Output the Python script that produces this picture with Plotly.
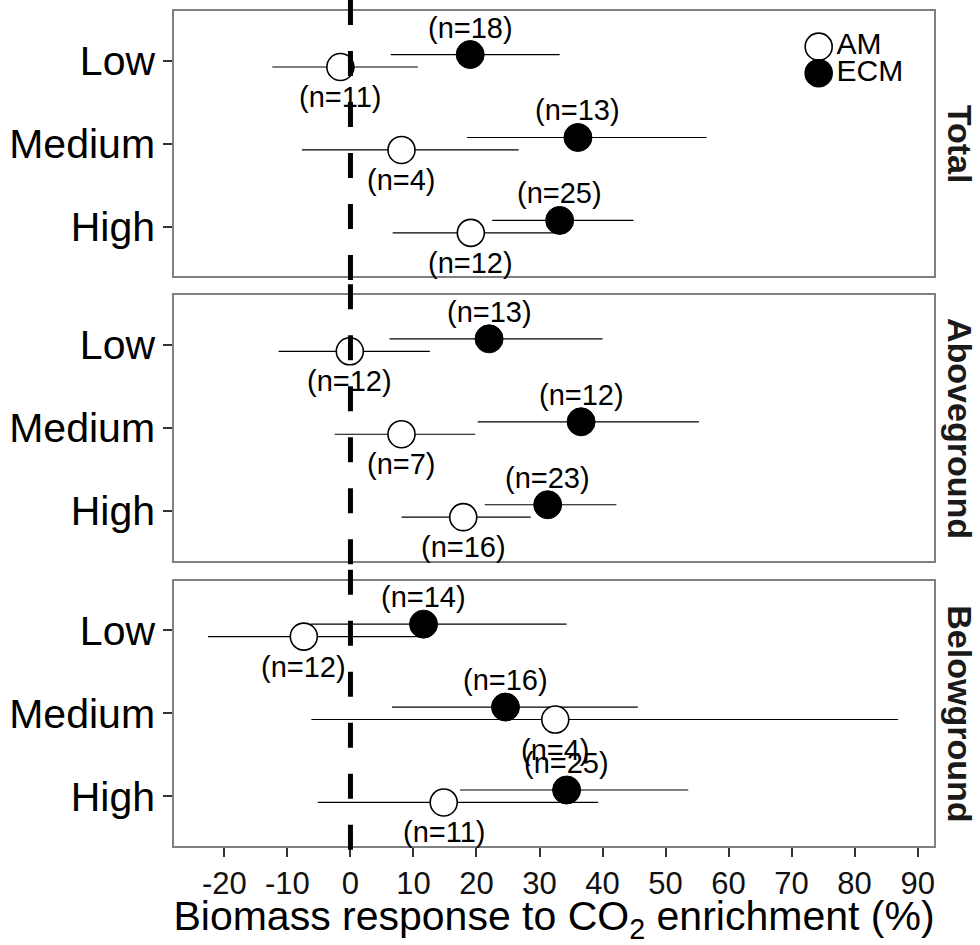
import plotly.graph_objects as go

# ---------------- data ----------------
levels = ["Low", "Medium", "High"]
panels = ["Total", "Aboveground", "Belowground"]
x_ticks = [-20, -10, 0, 10, 20, 30, 40, 50, 60, 70, 80, 90]

total_ecm_mean = [19.0, 36.1, 33.2]
total_ecm_lo = [6.4, 18.5, 22.5]
total_ecm_hi = [33.2, 56.5, 44.9]
total_ecm_n = [18, 13, 25]
total_am_mean = [-1.6, 8.1, 19.1]
total_am_lo = [-12.4, -7.7, 6.7]
total_am_hi = [10.7, 26.7, 32.4]
total_am_n = [11, 4, 12]

above_ecm_mean = [22.0, 36.6, 31.3]
above_ecm_lo = [6.2, 20.2, 21.3]
above_ecm_hi = [40.0, 55.3, 42.2]
above_ecm_n = [13, 12, 23]
above_am_mean = [-0.1, 8.1, 17.9]
above_am_lo = [-11.4, -2.5, 8.1]
above_am_hi = [12.6, 19.8, 28.6]
above_am_n = [12, 7, 16]

below_ecm_mean = [11.6, 24.6, 34.3]
below_ecm_lo = [-6.3, 6.6, 17.4]
below_ecm_hi = [34.3, 45.6, 53.6]
below_ecm_n = [14, 16, 25]
below_am_mean = [-7.4, 32.5, 14.8]
below_am_lo = [-22.6, -6.2, -5.2]
below_am_hi = [11.5, 86.9, 39.3]
below_am_n = [12, 4, 11]

panel_data = [
    (total_ecm_mean, total_ecm_lo, total_ecm_hi, total_ecm_n,
     total_am_mean, total_am_lo, total_am_hi, total_am_n),
    (above_ecm_mean, above_ecm_lo, above_ecm_hi, above_ecm_n,
     above_am_mean, above_am_lo, above_am_hi, above_am_n),
    (below_ecm_mean, below_ecm_lo, below_ecm_hi, below_ecm_n,
     below_am_mean, below_am_lo, below_am_hi, below_am_n),
]

# ---------------- styling ----------------
FONT = "Liberation Sans, Arial, Helvetica, sans-serif"
W, H = 980, 945
ML, MR, MT, MB = 174, 46, 9, 96
plot_h = H - MT - MB
panel_px = [(9, 276), (295, 562), (582, 849)]  # top, bottom in px
DODGE = 0.075
pos = {lvl: i + 1 for i, lvl in enumerate(levels)}

fig = go.Figure()
annotations = []

for p, (em, elo, ehi, en, am, alo, ahi, an) in enumerate(panel_data):
    xa = "x" if p == 0 else f"x{p+1}"
    ya = "y" if p == 0 else f"y{p+1}"
    y_ecm = [pos[l] - DODGE for l in levels]
    y_am = [pos[l] + DODGE for l in levels]
    # error bars first (both groups)
    for mean, lo, hi, yy in ((em, elo, ehi, y_ecm), (am, alo, ahi, y_am)):
        fig.add_trace(go.Scatter(
            x=mean, y=yy, xaxis=xa, yaxis=ya, mode="markers",
            marker=dict(size=1, color="rgba(0,0,0,0)"),
            error_x=dict(type="data", symmetric=False,
                         array=[h - m for h, m in zip(hi, mean)],
                         arrayminus=[m - l for m, l in zip(mean, lo)],
                         width=0, thickness=1.2, color="black"),
            showlegend=False, hoverinfo="skip"))
    # points
    fig.add_trace(go.Scatter(
        x=am, y=y_am, xaxis=xa, yaxis=ya, mode="markers",
        marker=dict(size=27, color="white", line=dict(color="black", width=1.6)),
        showlegend=False))
    fig.add_trace(go.Scatter(
        x=em, y=y_ecm, xaxis=xa, yaxis=ya, mode="markers",
        marker=dict(size=28, color="black", line=dict(color="black", width=1)),
        showlegend=False))
    # sample-size labels
    for mean, yy, ns, shift in ((em, y_ecm, en, 27), (am, y_am, an, -30)):
        for xv, yv, k in zip(mean, yy, ns):
            annotations.append(dict(
                x=xv, y=yv, xref=xa, yref=ya, text=f"(n={k})",
                showarrow=False, yshift=shift, xanchor="center", yanchor="middle",
                font=dict(family=FONT, size=29, color="black")))

# manual legend inside top panel
fig.add_trace(go.Scatter(
    x=[74.3, 74.3], y=[0.83, 1.15], xaxis="x", yaxis="y",
    mode="markers+text", text=["AM", "ECM"], textposition="middle right",
    textfont=dict(family=FONT, size=30, color="black"),
    marker=dict(size=27, color=["white", "black"],
                line=dict(color="black", width=1.6)),
    showlegend=False, hoverinfo="skip"))

xrange = [-28.0, 92.6]
layout = dict(
    width=W, height=H,
    margin=dict(l=ML, r=MR, t=MT, b=MB, pad=0),
    paper_bgcolor="white", plot_bgcolor="white",
    font=dict(family=FONT, color="black"),
    showlegend=False,
)
shapes = []
for p in range(3):
    top, bot = panel_px[p]
    d0 = (H - MB - bot) / plot_h
    d1 = (H - MB - top) / plot_h
    xk = "xaxis" if p == 0 else f"xaxis{p+1}"
    yk = "yaxis" if p == 0 else f"yaxis{p+1}"
    ya = "y" if p == 0 else f"y{p+1}"
    xa = "x" if p == 0 else f"x{p+1}"
    last = p == 2
    layout[xk] = dict(
        domain=[0, 1], anchor=ya, range=xrange,
        tickmode="array", tickvals=x_ticks, ticktext=[str(v) for v in x_ticks],
        showticklabels=last, ticks="outside" if last else "",
        ticklen=9, tickwidth=2, tickcolor="#333333",
        tickfont=dict(family=FONT, size=31, color="#111111"),
        showline=True, linecolor="#808080", linewidth=1.5, mirror=True,
        showgrid=False, zeroline=False,
    )
    if p > 0:
        layout[xk]["matches"] = "x"
    if last:
        layout[xk]["title"] = dict(
            text="Biomass response to CO<sub>2</sub> enrichment (%)",
            font=dict(family=FONT, size=41, color="black"), standoff=6)
    layout[yk] = dict(
        domain=[d0, d1], anchor=xa, range=[3.6, 0.4],
        tickmode="array", tickvals=[pos[l] for l in levels], ticktext=levels,
        ticks="outside", ticklen=9, tickwidth=2, tickcolor="#333333",
        tickfont=dict(family=FONT, size=41, color="black"),
        showline=True, linecolor="#808080", linewidth=1.5, mirror=True,
        showgrid=False, zeroline=False,
    )
    # zero reference line (on top)
    shapes.append(dict(
        type="line", xref=xa, yref=f"{ya} domain",
        x0=0, x1=0, y0=1 + 11 / 267, y1=-0.05,
        line=dict(color="black", width=5, dash="25px,26px"), layer="above"))
    # strip label
    annotations.append(dict(
        text=f"<b>{panels[p]}</b>", xref="paper", yref="paper",
        x=(960 - ML) / (W - ML - MR), y=(d0 + d1) / 2,
        xanchor="center", yanchor="middle", textangle=90, showarrow=False,
        font=dict(family=FONT, size=34, color="#1a1a1a")))

layout["shapes"] = shapes
layout["annotations"] = annotations
fig.update_layout(**layout)

fig.write_html("out.html")
